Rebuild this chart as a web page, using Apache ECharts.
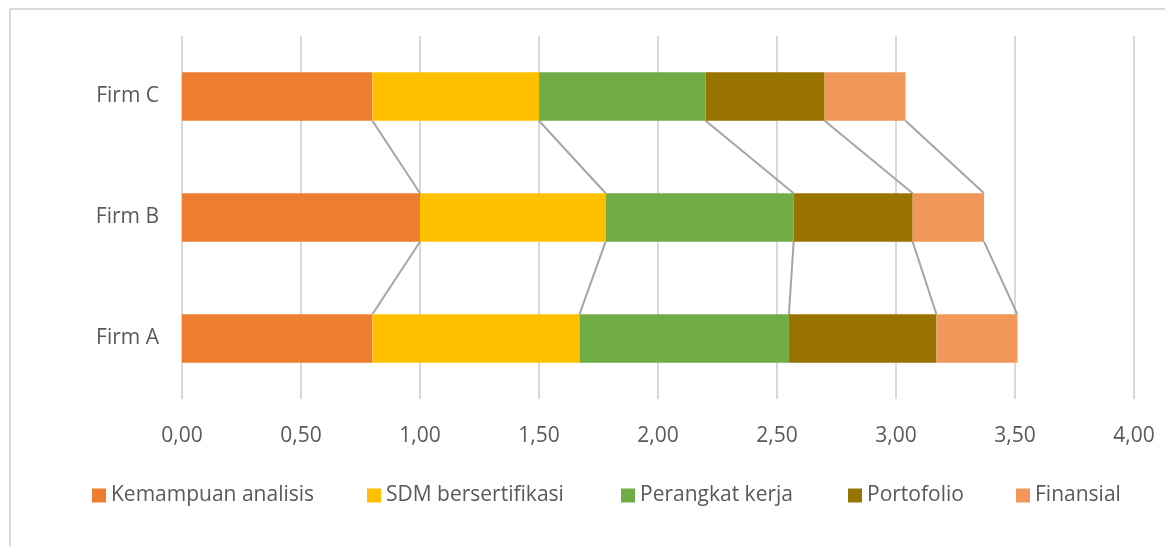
<!DOCTYPE html>
<html>
<head>
<meta charset="utf-8">
<script src="https://cdn.jsdelivr.net/npm/echarts@6/dist/echarts.min.js"></script>
<style>
  html, body { margin: 0; padding: 0; background: #fff; }
  #container { width: 1165px; height: 546px; }
</style>
</head>
<body>
<div id="container"></div>
<script>
// categories, bottom to top
var categories = ['Firm A', 'Firm B', 'Firm C'];
var seriesNames = ['Kemampuan analisis', 'SDM bersertifikasi', 'Perangkat kerja', 'Portofolio', 'Finansial'];

var kemampuan  = [0.80, 1.00, 0.80];
var sdm        = [0.87, 0.78, 0.70];
var perangkat  = [0.88, 0.79, 0.70];
var portofolio = [0.62, 0.50, 0.50];
var finansial  = [0.34, 0.30, 0.34];

var colors = ['#ED7D31', '#FFC000', '#70AD47', '#997300', '#F1975A'];
var legendLeft = [87, 362, 616, 843, 1011];

var allValues = [kemampuan, sdm, perangkat, portofolio, finansial];

// cumulative ends of each segment, per category
var cum = categories.map(function (c, i) {
    var s = 0;
    return allValues.map(function (arr) { s += arr[i]; return s; });
});

// series-line data: [value on lower bar, lower index, value on upper bar, segment]
var seriesLineData = [];
for (var i = 0; i < categories.length - 1; i++) {
    for (var k = 0; k < seriesNames.length; k++) {
        seriesLineData.push([cum[i][k], i, cum[i + 1][k], k]);
    }
}

var font = 'Open Sans';
var textColor = '#595959';

var dom = document.getElementById('container');
var myChart = echarts.init(dom);

var series = seriesNames.map(function (name, idx) {
    return {
        name: name,
        type: 'bar',
        stack: 'total',
        barWidth: '40%',
        itemStyle: { color: colors[idx] },
        data: allValues[idx]
    };
});

// Excel-style series lines between the stacked bars
series.push({
    type: 'custom',
    name: 'lines',
    silent: true,
    encode: { x: [0, 2], y: 1 },
    renderItem: function (params, api) {
        var lo = api.coord([api.value(0), api.value(1)]);
        var hi = api.coord([api.value(2), api.value(1) + 1]);
        var half = api.size([0, 1])[1] * 0.2;
        return {
            type: 'line',
            shape: { x1: lo[0], y1: lo[1] - half, x2: hi[0], y2: hi[1] + half },
            style: { stroke: '#A5A5A5', lineWidth: 2 }
        };
    },
    data: seriesLineData
});

var legends = seriesNames.map(function (name, idx) {
    return {
        data: [name],
        left: legendLeft[idx],
        top: 480,
        itemWidth: 14,
        itemHeight: 14,
        icon: 'rect',
        textStyle: { fontFamily: font, fontSize: 21, color: textColor }
    };
});

var option = {
    backgroundColor: '#FFFFFF',
    animation: false,
    color: colors,
    legend: legends,
    grid: { left: 182, right: 31, top: 36, bottom: 147 },
    xAxis: {
        type: 'value',
        min: 0,
        max: 4,
        interval: 0.5,
        axisLine: { show: false },
        axisTick: { show: false },
        axisLabel: {
            margin: 27,
            fontFamily: font,
            fontSize: 21,
            color: textColor,
            formatter: function (v) { return v.toFixed(2).replace('.', ','); }
        },
        splitLine: { lineStyle: { color: '#D9D9D9', width: 2 } }
    },
    yAxis: {
        type: 'category',
        data: categories,
        axisLine: { show: false },
        axisTick: { show: false },
        axisLabel: {
            margin: 23,
            fontFamily: font,
            fontSize: 21,
            color: textColor
        }
    },
    graphic: [
        { type: 'line', shape: { x1: 10, y1: 9, x2: 1165, y2: 9 }, style: { stroke: '#D9D9D9', lineWidth: 2 } },
        { type: 'line', shape: { x1: 10, y1: 9, x2: 10, y2: 546 }, style: { stroke: '#D9D9D9', lineWidth: 2 } }
    ],
    series: series
};

myChart.setOption(option);
window.onresize = function () { myChart.resize(); };
</script>
</body>
</html>
